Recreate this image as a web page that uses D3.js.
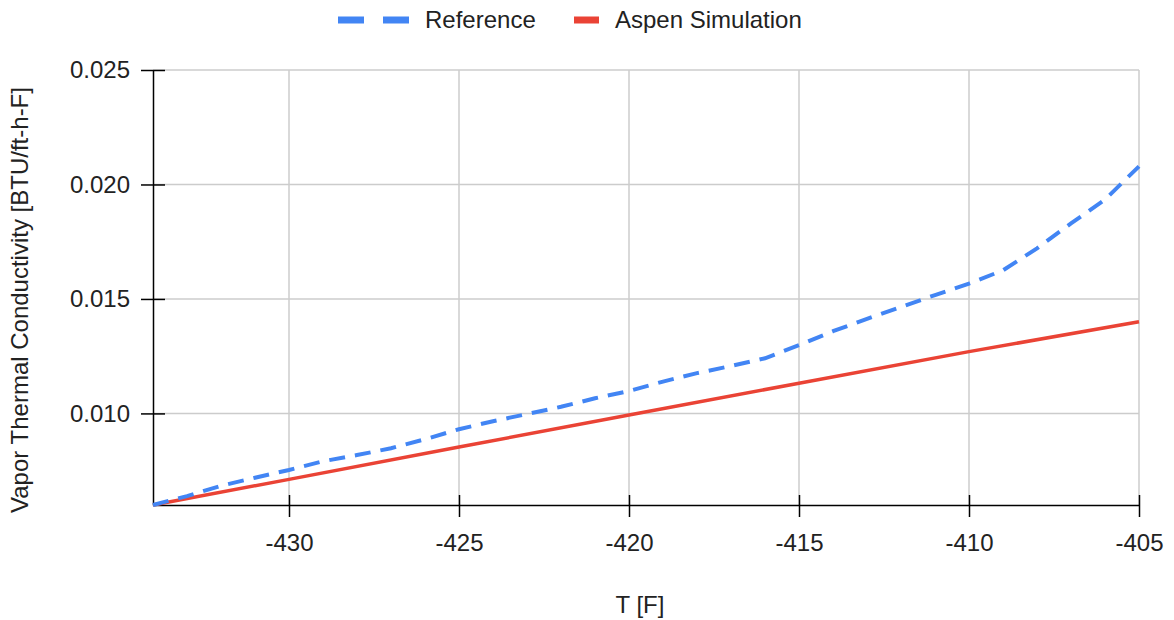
<!DOCTYPE html>
<html>
<head>
<meta charset="utf-8">
<script src="https://cdnjs.cloudflare.com/ajax/libs/d3/7.8.5/d3.min.js"></script>
<style>
    body { margin: 0; background: #fff; }
    text { font-family: "Liberation Sans", Arial, sans-serif; fill: #222; }
</style>
</head>
<body>
<svg id="chart" width="1174" height="620"></svg>
<script>
//Data
let refTemp = [-434, -433, -432, -431, -430, -429, -428, -427, -426, -425, -424, -423, -422, -421, -420,
    -419, -418, -417, -416, -415, -414, -413, -412, -411, -410, -409, -408, -407, -406, -405];
let refValue = [0.00600, 0.00639, 0.00684, 0.00719, 0.00753, 0.00791, 0.00818, 0.00848, 0.00887, 0.00931,
    0.00966, 0.00997, 0.01029, 0.01066, 0.01098, 0.01139, 0.01176, 0.01207, 0.01241, 0.01298,
    0.01359, 0.01413, 0.01465, 0.01517, 0.01567, 0.01625, 0.01721, 0.01830, 0.01934, 0.02079];
let aspenTemp = [-434, -430, -425, -420, -415, -410, -405];
let aspenValue = [0.00600, 0.00712, 0.00853, 0.00993, 0.01132, 0.01270, 0.01400];
let xTicks = [-430, -425, -420, -415, -410, -405];
let yTicks = [0.010, 0.015, 0.020, 0.025];

let svg = d3.select("#chart");
let plotLeft = 153, plotRight = 1139, plotTop = 70, plotBottom = 505;

//Scales
let x = d3.scaleLinear().domain([-434, -405]).range([plotLeft, plotRight]);
let y = d3.scaleLinear().domain([0.006, 0.025]).range([plotBottom, plotTop]);

//Gridlines
svg.append("g")
    .selectAll("line")
    .data(xTicks)
    .enter().append("line")
    .attr("x1", d => x(d)).attr("x2", d => x(d))
    .attr("y1", plotTop).attr("y2", plotBottom)
    .attr("stroke", "#ccc").attr("stroke-width", 1.5);
svg.append("g")
    .selectAll("line")
    .data(yTicks)
    .enter().append("line")
    .attr("x1", plotLeft).attr("x2", plotRight)
    .attr("y1", d => y(d)).attr("y2", d => y(d))
    .attr("stroke", "#ccc").attr("stroke-width", 1.5);

//Axes (plain hyphen for negatives, like the reference)
let xAxis = svg.append("g")
    .attr("transform", "translate(0," + plotBottom + ")")
    .call(d3.axisBottom(x).tickValues(xTicks).tickSize(12).tickSizeOuter(0).tickPadding(17)
        .tickFormat(d => String(d)));
let yAxis = svg.append("g")
    .attr("transform", "translate(" + plotLeft + ",0)")
    .call(d3.axisLeft(y).tickValues(yTicks).tickSize(12).tickSizeOuter(0).tickPadding(11)
        .tickFormat(d3.format(".3f")));
[xAxis, yAxis].forEach(a => {
    a.select(".domain").attr("stroke", "#000").attr("stroke-width", 1.5);
    a.selectAll(".tick line").attr("stroke", "#000").attr("stroke-width", 1.5);
    a.selectAll(".tick text").attr("font-size", "24px").attr("fill", "#222")
        .attr("font-family", "'Liberation Sans', Arial, sans-serif");
});
//ticks cross the axis line
xAxis.selectAll(".tick line").attr("y1", -10);
yAxis.selectAll(".tick line").attr("x1", 12);

//Lines
let line = d3.line().x(d => x(d[0])).y(d => y(d[1]));
svg.append("path")
    .datum(aspenTemp.map((t, i) => [t, aspenValue[i]]))
    .attr("fill", "none")
    .attr("stroke", "#EA4335")
    .attr("stroke-width", 3.5)
    .attr("stroke-linejoin", "round")
    .attr("d", line);
svg.append("path")
    .datum(refTemp.map((t, i) => [t, refValue[i]]))
    .attr("fill", "none")
    .attr("stroke", "#4285F4")
    .attr("stroke-width", 4)
    .attr("stroke-dasharray", "16,10")
    .attr("d", line);

//Axis titles
svg.append("text")
    .attr("x", 640).attr("y", 613)
    .attr("text-anchor", "middle")
    .attr("font-size", "24px")
    .text("T [F]");
svg.append("text")
    .attr("transform", "translate(28,300) rotate(-90)")
    .attr("text-anchor", "middle")
    .attr("font-size", "24px")
    .text("Vapor Thermal Conductivity [BTU/ft-h-F]");

//Legend
let legend = svg.append("g");
legend.append("line")
    .attr("x1", 338).attr("x2", 409).attr("y1", 20).attr("y2", 20)
    .attr("stroke", "#4285F4").attr("stroke-width", 7)
    .attr("stroke-dasharray", "26,19");
legend.append("text")
    .attr("x", 425).attr("y", 28)
    .attr("font-size", "24px")
    .text("Reference");
legend.append("line")
    .attr("x1", 574).attr("x2", 599).attr("y1", 20).attr("y2", 20)
    .attr("stroke", "#EA4335").attr("stroke-width", 7);
legend.append("text")
    .attr("x", 615).attr("y", 28)
    .attr("font-size", "24px")
    .text("Aspen Simulation");
</script>
</body>
</html>
